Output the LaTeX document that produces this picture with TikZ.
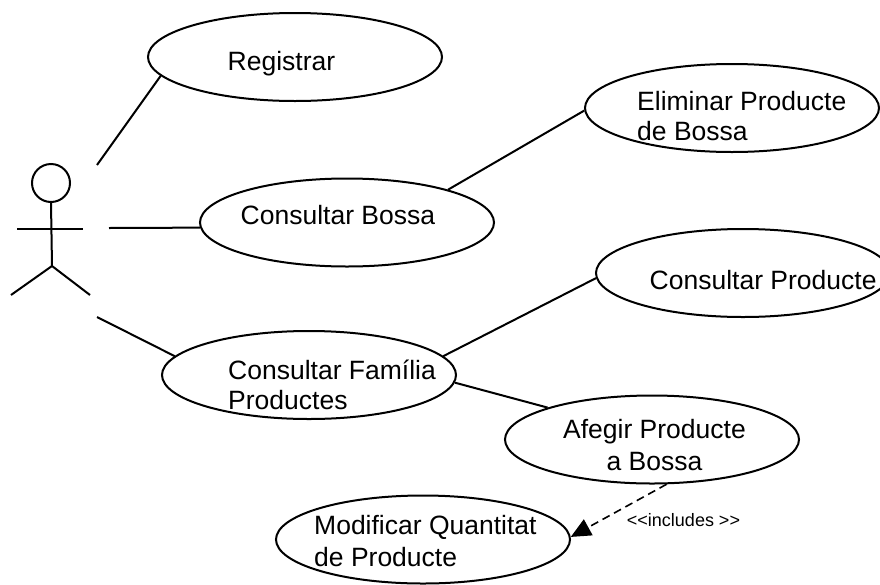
\documentclass[tikz,border=0pt]{standalone}
\usepackage{fontspec}
\setmainfont{Liberation Sans}
\usetikzlibrary{shapes.geometric,positioning,arrows.meta}
\tikzset{
	usecase/.style={draw,line width=2pt,ellipse,inner sep=0pt,minimum width=294pt,minimum height=88pt},
	usetext/.style={font=\fontsize{26.5}{30}\selectfont,align=left,inner sep=0pt},
	usetextwide/.style={font=\fontsize{26.5}{32}\selectfont,inner sep=0pt},
	link/.style={line width=2pt}
}
\begin{document}
\begin{tikzpicture}[x=1pt,y=-1pt]
		\useasboundingbox (0,0) rectangle (880,584);
		% actor
		\node[draw,line width=2pt,circle,minimum size=38pt,inner sep=0pt] (head) at (51,183) {};
		\coordinate (hip) at (52,266);
		\coordinate (armL) at (17,228.5);
		\coordinate (armR) at (83,228.5);
		\coordinate (footL) at (11,295);
		\coordinate (footR) at (90,295);
		\draw[link] (head.south) -- (hip);
		\draw[link] (armL) -- (armR);
		\draw[link] (footL) -- (hip) -- (footR);
		% use cases
		\node[usecase] (registrar) at (295,57) {};
		\node[usetext,anchor=west] (registrart) at (227.5,64) {Registrar};
		\node[usecase] (bossa) at (347,222.5) {};
		\node[usetext,anchor=west] (bossat) at (240.5,215.5) {Consultar Bossa};
		\node[usecase] (eliminar) at (732,108) {};
		\node[usetext,anchor=west] (eliminart) at (637,116.5) {Eliminar Producte\\de Bossa};
		\node[usecase] (producte) at (743,273) {};
		\node[usetext,anchor=west] (productet) at (649.5,280.5) {Consultar Producte};
		\node[usecase] (familia) at (309,375) {};
		\node[usetext,anchor=west] (familiat) at (228,384.5) {Consultar Família\\Productes};
		\node[usecase] (afegir) at (652,439.5) {};
		\node[usetextwide,align=center] (afegirt) at (654.5,445.5) {Afegir Producte\\a Bossa};
		\node[usecase] (modificar) at (423,539.5) {};
		\node[usetextwide,align=left,anchor=west] (modificart) at (314,541.5) {Modificar Quantitat\\de Producte};
		% connectors
		\coordinate (a1) at (97,165);
		\coordinate (a2) at (109,228);
		\coordinate (a3) at (97,317);
		\draw[link] (a1) -- (registrar.188.5);
		\draw[link] (a2) -- (bossa.182.3);
		\draw[link] (a3) -- (familia.172);
		\draw[link] (bossa.18.7) -- (eliminar.181.5);
		\draw[link] (familia.8.5) -- (producte.182.7);
		\draw[link] (familia.-3) -- (afegir.163.8);
		\draw[line width=1.6pt,dash pattern=on 8pt off 5pt,-{Triangle[length=20pt,width=18pt]}] (afegir.288) -- (modificar.1);
		\node[font=\fontsize{18}{20}\selectfont,inner sep=0pt] (incl) at (683.5,520) {<{}<includes >{}>};
	\end{tikzpicture}
\end{document}
